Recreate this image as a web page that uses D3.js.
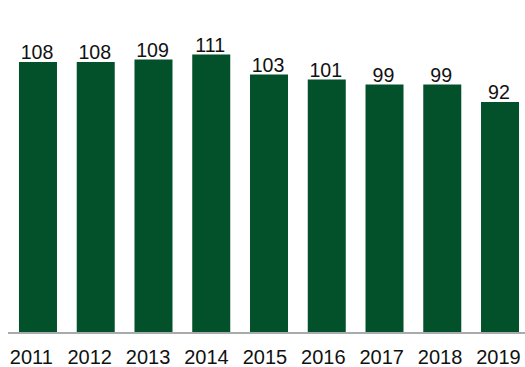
<!DOCTYPE html>
<html>
<head>
<meta charset="utf-8">
<script src="https://cdn.jsdelivr.net/npm/d3@7"></script>
<style>
  html, body { margin: 0; padding: 0; background: #fff; }
  svg { display: block; }
  text { font-family: "Liberation Sans", Arial, Helvetica, sans-serif; fill: #111; }
</style>
</head>
<body>
<svg id="chart" width="525" height="367"></svg>
<script>
// Annual totals, 2011–2019
const years = ["2011", "2012", "2013", "2014", "2015", "2016", "2017", "2018", "2019"];
const values = [108, 108, 109, 111, 103, 101, 99, 99, 92];

const W = 525, H = 367;
const baseline = 332;

const svg = d3.select("#chart");

// Bar positions
const x = d3.scaleBand()
  .domain(years)
  .range([9.1, 528.9])
  .paddingInner(0.342)
  .paddingOuter(0.171);

// Year labels sit on a slightly wider spacing than the bars
const xLabel = d3.scalePoint()
  .domain(years)
  .range([30.8, 498]);

const y = d3.scaleLinear()
  .domain([0, 120])
  .range([baseline, baseline - 300]);

// Bars
svg.append("g")
  .selectAll("rect")
  .data(years)
  .join("rect")
  .attr("x", d => x(d))
  .attr("width", x.bandwidth())
  .attr("y", (d, i) => y(values[i]))
  .attr("height", (d, i) => y(0) - y(values[i]))
  .attr("fill", "#03512b");

// Value labels above bars
svg.append("g")
  .selectAll("text")
  .data(years)
  .join("text")
  .attr("x", d => x(d) + x.bandwidth() / 2 - 1)
  .attr("y", (d, i) => y(values[i]) - 3)
  .attr("text-anchor", "middle")
  .style("font-size", "19.6px")
  .text((d, i) => values[i]);

// Baseline
svg.append("line")
  .attr("x1", 8)
  .attr("x2", W)
  .attr("y1", baseline + 1)
  .attr("y2", baseline + 1)
  .attr("stroke", "#a7abab")
  .attr("stroke-width", 2);

// Year axis labels
const axis = d3.axisBottom(xLabel).tickSize(0).tickPadding(0);
const gAxis = svg.append("g")
  .attr("transform", `translate(0, ${baseline})`)
  .call(axis);
gAxis.select(".domain").remove();
gAxis.selectAll("text")
  .attr("dy", null)
  .attr("y", 32)
  .style("font-size", "20px")
  .style("font-family", "\"Liberation Sans\", Arial, Helvetica, sans-serif")
  .attr("fill", "#111");
</script>
</body>
</html>
